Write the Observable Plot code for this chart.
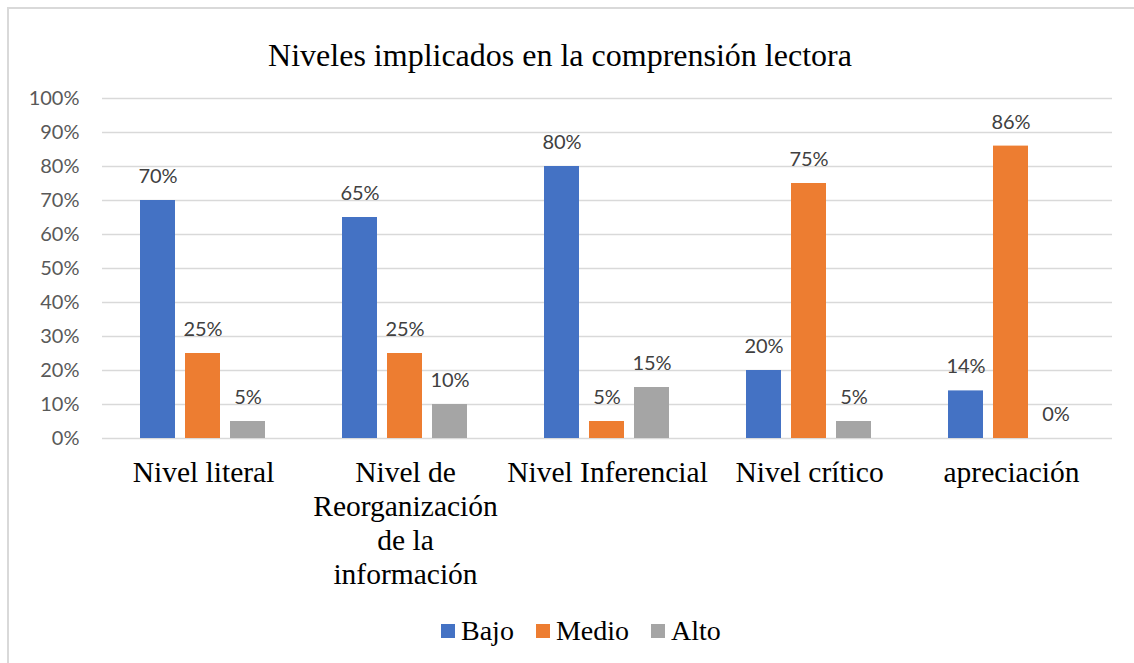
<!DOCTYPE html>
<html>
<head>
<meta charset="utf-8">
<script src="https://cdn.jsdelivr.net/npm/d3@7"></script>
<script src="https://cdn.jsdelivr.net/npm/@observablehq/plot@0.6"></script>
<style>
  html, body { margin: 0; padding: 0; background: #fff; }
  body { width: 1134px; height: 663px; overflow: hidden; position: relative; }
  #frame { position: absolute; left: 7px; top: 7px; width: 1300px; height: 800px; border: 2px solid #d9d9d9; box-sizing: border-box; }
  #title { position: absolute; left: 0; top: 37px; width: 1120px; text-align: center; font-family: "Liberation Serif", "Times New Roman", serif; font-size: 32px; line-height: 36px; color: #000; }
  #chart { position: absolute; left: 0; top: 0; }
  #legend { position: absolute; left: 441px; top: 613px; display: flex; align-items: center; font-family: "Liberation Serif", "Times New Roman", serif; font-size: 28px; line-height: 36px; color: #000; }
  #legend .item { display: flex; align-items: center; margin-right: 22px; }
  #legend .sw { width: 14px; height: 14px; margin-right: 6px; }
</style>
</head>
<body>
<div id="frame"></div>
<div id="chart"></div>
<div id="title">Niveles implicados en la comprensión lectora</div>
<div id="legend"></div>
<script>
const categories = ["Nivel literal", "Nivel de Reorganización de la información", "Nivel Inferencial", "Nivel crítico", "apreciación"];
const categoryLabels = ["Nivel literal", "Nivel de\nReorganización\nde la\ninformación", "Nivel Inferencial", "Nivel crítico", "apreciación"];
const series = ["Bajo", "Medio", "Alto"];
const colors = ["#4472C4", "#ED7D31", "#A5A5A5"];
const bajo  = [0.70, 0.65, 0.80, 0.20, 0.14];
const medio = [0.25, 0.25, 0.05, 0.75, 0.86];
const alto  = [0.05, 0.10, 0.15, 0.05, 0.00];
const yTicks = [0, 0.1, 0.2, 0.3, 0.4, 0.5, 0.6, 0.7, 0.8, 0.9, 1.0];

const serifFont = "Liberation Serif";
const valuesBySeries = [bajo, medio, alto];
const data = [];
categories.forEach((c, i) => {
  series.forEach((s, j) => {
    data.push({cat: c, series: s, value: valuesBySeries[j][i]});
  });
});
const labelRows = categories.map((c, i) => ({cat: c, label: categoryLabels[i]}));

const H = 600;
const chart = Plot.plot({
  width: 1134,
  height: H,
  marginLeft: 101,
  marginRight: 22,
  marginTop: 98,
  marginBottom: H - 438,
  style: {background: "transparent", overflow: "visible"},
  fx: {domain: categories, padding: 0, axis: null},
  x: {domain: series, paddingInner: 0.222, paddingOuter: 0.855, axis: null},
  y: {domain: [0, 1], axis: null},
  color: {domain: series, range: colors},
  marks: [
    Plot.gridY(yTicks, {stroke: "#d9d9d9", strokeOpacity: 1, strokeWidth: 1.5}),
    Plot.axisY(yTicks, {
      tickFormat: d3.format(".0%"), tickSize: 0, tickPadding: 23,
      fontSize: 20, fontFamily: "Lato, sans-serif", fill: "#595959", label: null
    }),
    Plot.barY(data, {fx: "cat", x: "series", y: "value", fill: "series"}),
    Plot.text(data, {
      fx: "cat", x: "series", y: "value", text: d => d3.format(".0%")(d.value),
      dy: -24, fontSize: 20, fontFamily: "Lato, sans-serif", fill: "#404040"
    }),
    Plot.text(labelRows, {
      fx: "cat", text: "label", frameAnchor: "bottom", lineAnchor: "top", dy: 19,
      fontSize: 29.5, lineHeight: 1.153, fontFamily: serifFont, fill: "#000", clip: false
    })
  ]
});
document.getElementById("chart").appendChild(chart);

const legend = document.getElementById("legend");
series.forEach((s, j) => {
  const item = document.createElement("div");
  item.className = "item";
  const sw = document.createElement("div");
  sw.className = "sw";
  sw.style.background = colors[j];
  const t = document.createElement("span");
  t.textContent = s;
  item.appendChild(sw);
  item.appendChild(t);
  legend.appendChild(item);
});
</script>
</body>
</html>
